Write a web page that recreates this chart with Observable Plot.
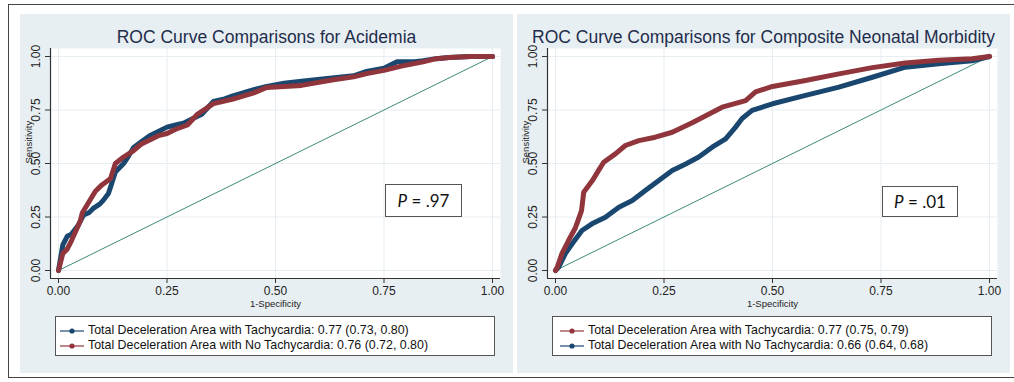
<!DOCTYPE html>
<html>
<head>
<meta charset="utf-8">
<script src="https://cdn.jsdelivr.net/npm/d3@7"></script>
<script src="https://cdn.jsdelivr.net/npm/@observablehq/plot@0.6"></script>
<style>
  html, body { margin: 0; padding: 0; background: #fff; }
  body { width: 1014px; height: 382px; position: relative; overflow: hidden; font-family: "Liberation Sans", Arial, sans-serif; }
  .outer { position: absolute; left: 8px; top: 4px; width: 1030px; height: 374px; border: 1.6px solid #444; box-sizing: border-box; }
  .panel { position: absolute; top: 14px; width: 493px; height: 359px; background: #e8eff2; }
  .title { position: absolute; top: 13px; left: 0; width: 100%; text-align: center; font-size: 17.5px; line-height: 20px; color: #1e2d4c; white-space: nowrap; }
  .plot { position: absolute; left: 0; top: 0; }
  .legend { position: absolute; top: 302px; height: 40px; background: #fff; border: 1.5px solid #555; box-sizing: border-box; font-size: 12.4px; color: #111; padding-top: 6px; }
  .legend .row { height: 15px; line-height: 15px; white-space: nowrap; display: flex; align-items: center; }
  .legend svg { margin-right: 4px; }
  .pbox { position: absolute; background: #fff; border: 1.5px solid #555; box-sizing: border-box; font-family: Lato, "Open Sans", sans-serif; font-size: 17px; color: #111; display: flex; align-items: center; justify-content: center; }
</style>
</head>
<body>
<div class="outer"></div>
<div id="p1" class="panel" style="left:20px"></div>
<div id="p2" class="panel" style="left:517px"></div>
<script>
// ---------- data ----------
const ticks = [0, 0.25, 0.5, 0.75, 1];
const diagonal = [{x: 0, y: 0}, {x: 1, y: 1}];

const titles = ["ROC Curve Comparisons for Acidemia", "ROC Curve Comparisons for Composite Neonatal Morbidity"];
const pValues = ["= .97", "= .01"];

// Panel 1 – Acidemia
const acid_tachy_fpr = [0, 0.005, 0.01, 0.02, 0.03, 0.045, 0.058, 0.07, 0.08, 0.095, 0.104, 0.115, 0.12, 0.131, 0.15, 0.16, 0.173, 0.19, 0.21, 0.23, 0.25, 0.27, 0.29, 0.31, 0.33, 0.357, 0.38, 0.40, 0.45, 0.48, 0.52, 0.56, 0.63, 0.68, 0.71, 0.75, 0.78, 0.82, 0.84, 0.87, 0.90, 0.95, 1.0];
const acid_tachy_tpr = [0, 0.06, 0.12, 0.16, 0.17, 0.21, 0.26, 0.27, 0.29, 0.31, 0.33, 0.36, 0.39, 0.46, 0.50, 0.53, 0.575, 0.60, 0.63, 0.65, 0.67, 0.68, 0.69, 0.71, 0.73, 0.79, 0.80, 0.815, 0.845, 0.86, 0.875, 0.885, 0.90, 0.91, 0.93, 0.945, 0.975, 0.975, 0.98, 0.99, 0.995, 1.0, 1.0];
const acid_notachy_fpr = [0, 0.01, 0.02, 0.03, 0.05, 0.055, 0.07, 0.085, 0.10, 0.12, 0.131, 0.15, 0.173, 0.19, 0.21, 0.23, 0.25, 0.27, 0.297, 0.32, 0.357, 0.40, 0.45, 0.48, 0.52, 0.56, 0.63, 0.68, 0.71, 0.75, 0.79, 0.84, 0.87, 0.90, 0.95, 1.0];
const acid_notachy_tpr = [0, 0.08, 0.10, 0.14, 0.23, 0.27, 0.32, 0.37, 0.40, 0.43, 0.50, 0.53, 0.56, 0.59, 0.61, 0.63, 0.64, 0.66, 0.68, 0.73, 0.78, 0.80, 0.83, 0.855, 0.86, 0.865, 0.89, 0.905, 0.92, 0.935, 0.955, 0.975, 0.99, 0.995, 1.0, 1.0];

// Panel 2 – Composite Neonatal Morbidity
const cnm_tachy_fpr = [0, 0.004, 0.015, 0.03, 0.046, 0.06, 0.065, 0.085, 0.10, 0.111, 0.138, 0.161, 0.192, 0.23, 0.269, 0.315, 0.384, 0.438, 0.461, 0.50, 0.576, 0.653, 0.73, 0.806, 0.883, 0.96, 1.0];
const cnm_tachy_tpr = [0, 0.015, 0.08, 0.14, 0.20, 0.28, 0.366, 0.42, 0.47, 0.506, 0.545, 0.584, 0.607, 0.623, 0.646, 0.69, 0.763, 0.794, 0.835, 0.86, 0.888, 0.919, 0.948, 0.97, 0.982, 0.99, 1.0];
const cnm_notachy_fpr = [0, 0.007, 0.023, 0.038, 0.061, 0.084, 0.115, 0.146, 0.177, 0.207, 0.238, 0.269, 0.30, 0.33, 0.361, 0.392, 0.415, 0.43, 0.453, 0.50, 0.576, 0.653, 0.73, 0.806, 0.883, 0.96, 1.0];
const cnm_notachy_tpr = [0, 0.015, 0.08, 0.124, 0.187, 0.218, 0.249, 0.296, 0.327, 0.374, 0.421, 0.467, 0.498, 0.53, 0.576, 0.615, 0.67, 0.71, 0.748, 0.779, 0.818, 0.857, 0.903, 0.95, 0.966, 0.98, 1.0];

const legend1 = ["Total Deceleration Area with Tachycardia: 0.77 (0.73, 0.80)", "Total Deceleration Area with No Tachycardia: 0.76 (0.72, 0.80)"];
const legend2 = ["Total Deceleration Area with Tachycardia: 0.77 (0.75, 0.79)", "Total Deceleration Area with No Tachycardia: 0.66 (0.64, 0.68)"];

// ---------- styling ----------
const NAVY = "#1a476f", MAROON = "#90353b", TEAL = "#3d8b77", GRID = "#e6eef2";
const fmt = d3.format(".2f");
const padX = 8 / 434, padY = 8 / 214;

function zip(xs, ys) { return xs.map((x, i) => ({x, y: ys[i]})); }

function drawPanel(id, title, curves, legendItems, pText, pBox) {
  const host = document.getElementById(id);
  const t = document.createElement("div");
  t.className = "title";
  t.textContent = title;
  host.appendChild(t);

  const plot = Plot.plot({
    width: 493, height: 300,
    marginLeft: 30, marginRight: 13, marginTop: 34, marginBottom: 36,
    style: {background: "transparent", fontFamily: "'Liberation Sans', Arial, sans-serif", color: "#222"},
    x: {domain: [-padX, 1 + padX], axis: null},
    y: {domain: [-padY, 1 + padY], axis: null},
    marks: [
      Plot.frame({fill: "white", stroke: null}),
      Plot.gridX(ticks, {stroke: GRID, strokeOpacity: 1, strokeWidth: 1}),
      Plot.gridY(ticks, {stroke: GRID, strokeOpacity: 1, strokeWidth: 1}),
      Plot.line(diagonal, {x: "x", y: "y", stroke: TEAL, strokeWidth: 1}),
      ...curves.map(c => Plot.line(zip(c.fpr, c.tpr), {x: "x", y: "y", stroke: c.color, strokeWidth: 5, strokeLinejoin: "round", strokeLinecap: "round"})),
      Plot.ruleX([-padX], {stroke: "#333", strokeWidth: 1.2}),
      Plot.ruleY([-padY], {stroke: "#333", strokeWidth: 1.2}),
      Plot.axisX(ticks, {tickSize: 5, tickPadding: 3, fontSize: 12, tickFormat: fmt, label: null, stroke: "#333"}),
      Plot.axisY(ticks, {tickSize: 5, tickFormat: () => "", label: null, stroke: "#333"}),
      Plot.text(ticks, {y: d => d, text: fmt, frameAnchor: "left", dx: -14, rotate: -90, fontSize: 12, textAnchor: "middle", lineAnchor: "middle"}),
      Plot.text(["Sensitivity"], {text: d => d, frameAnchor: "left", dx: -22, rotate: -90, fontSize: 9.5, lineAnchor: "middle"}),
      Plot.text(["1-Specificity"], {text: d => d, frameAnchor: "bottom", dy: 25, fontSize: 9.5, lineAnchor: "middle"})
    ]
  });
  plot.classList.add("plot");
  host.appendChild(plot);

  const lg = document.createElement("div");
  lg.className = "legend";
  lg.style.left = legendItems.left + "px";
  lg.style.width = legendItems.width + "px";
  lg.style.paddingLeft = legendItems.pad + "px";
  legendItems.rows.forEach(r => {
    const row = document.createElement("div");
    row.className = "row";
    row.innerHTML = `<svg width="24" height="8"><line x1="0" y1="4" x2="24" y2="4" stroke="${r.color}" stroke-width="1.2"/><circle cx="12" cy="4" r="2.6" fill="${r.color}"/></svg><span>${r.label}</span>`;
    lg.appendChild(row);
  });
  host.appendChild(lg);

  const pb = document.createElement("div");
  pb.className = "pbox";
  pb.style.left = pBox.left + "px";
  pb.style.top = pBox.top + "px";
  pb.style.width = pBox.width + "px";
  pb.style.height = pBox.height + "px";
  pb.innerHTML = `<i>P</i>&nbsp;${pText}`;
  host.appendChild(pb);
}

drawPanel("p1", titles[0],
  [
    {fpr: acid_tachy_fpr, tpr: acid_tachy_tpr, color: NAVY},
    {fpr: acid_notachy_fpr, tpr: acid_notachy_tpr, color: MAROON}
  ],
  {left: 35, width: 440, pad: 4, rows: [{color: NAVY, label: legend1[0]}, {color: MAROON, label: legend1[1]}]},
  pValues[0], {left: 365, top: 170, width: 77, height: 33});

drawPanel("p2", titles[1],
  [
    {fpr: cnm_notachy_fpr, tpr: cnm_notachy_tpr, color: NAVY},
    {fpr: cnm_tachy_fpr, tpr: cnm_tachy_tpr, color: MAROON}
  ],
  {left: 35, width: 440, pad: 7, rows: [{color: MAROON, label: legend2[0]}, {color: NAVY, label: legend2[1]}]},
  pValues[1], {left: 365, top: 172, width: 76, height: 31});
</script>
</body>
</html>
